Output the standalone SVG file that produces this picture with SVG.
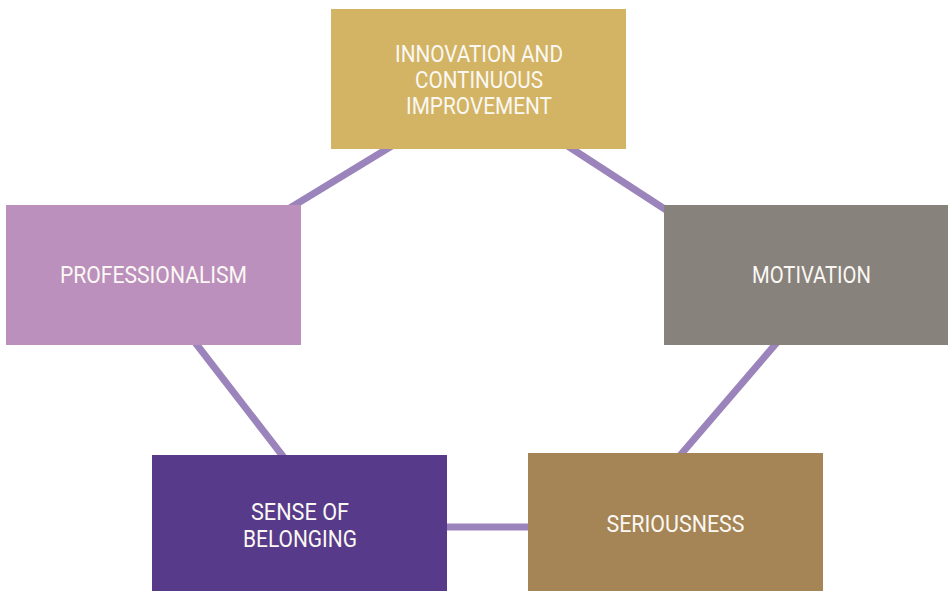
<svg xmlns="http://www.w3.org/2000/svg" width="948" height="591" viewBox="0 0 948 591">
  <style>
    .link { stroke: #9b84bb; stroke-width: 7; fill: none; }
    .label { font-family: "Liberation Sans Narrow", "Roboto", "Liberation Sans", sans-serif; font-size: 24px; fill: #fbf8f4; text-anchor: middle; }
  </style>
  <rect width="948" height="591" fill="#ffffff"/>

  <!-- connectors run under the boxes -->
  <g id="connectors">
    <line class="link" x1="400" y1="141" x2="280" y2="214"/>
    <line class="link" x1="560" y1="141" x2="680" y2="219"/>
    <line class="link" x1="187" y1="332" x2="292" y2="468"/>
    <line class="link" x1="786" y1="332" x2="671" y2="466"/>
    <line class="link" x1="440" y1="527" x2="535" y2="527"/>
  </g>

  <g id="innovation">
    <rect x="331" y="9" width="295" height="140" fill="#d2b464"/>
    <text class="label" x="479" y="62" textLength="168" lengthAdjust="spacingAndGlyphs">INNOVATION AND</text>
    <text class="label" x="479" y="88" textLength="128" lengthAdjust="spacingAndGlyphs">CONTINUOUS</text>
    <text class="label" x="479" y="114" textLength="146" lengthAdjust="spacingAndGlyphs">IMPROVEMENT</text>
  </g>

  <g id="professionalism">
    <rect x="6" y="205" width="295" height="140" fill="#bb90bc"/>
    <text class="label" x="153.5" y="283" textLength="187" lengthAdjust="spacingAndGlyphs">PROFESSIONALISM</text>
  </g>

  <g id="motivation">
    <rect x="664" y="205" width="284" height="140" fill="#88827d"/>
    <text class="label" x="811.5" y="283" textLength="119" lengthAdjust="spacingAndGlyphs">MOTIVATION</text>
  </g>

  <g id="belonging">
    <rect x="152" y="455" width="295" height="136" fill="#573b8a"/>
    <text class="label" x="300" y="520" textLength="98" lengthAdjust="spacingAndGlyphs">SENSE OF</text>
    <text class="label" x="300" y="547" textLength="114" lengthAdjust="spacingAndGlyphs">BELONGING</text>
  </g>

  <g id="seriousness">
    <rect x="528" y="453" width="295" height="138" fill="#a58555"/>
    <text class="label" x="675.5" y="532" textLength="138" lengthAdjust="spacingAndGlyphs">SERIOUSNESS</text>
  </g>
</svg>
